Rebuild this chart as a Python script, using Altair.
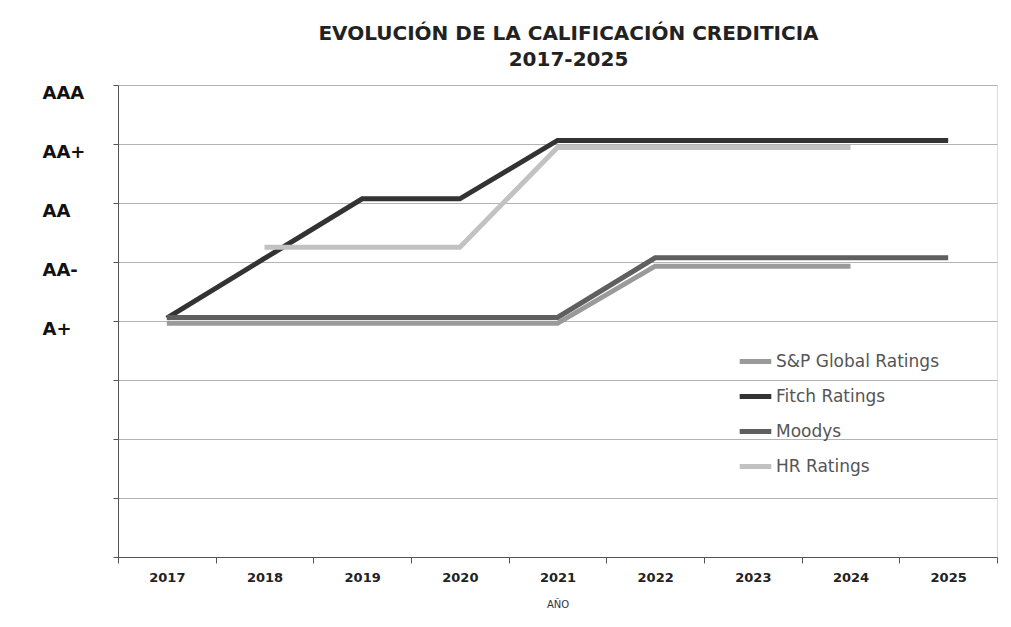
import altair as alt
import pandas as pd

years = ["2017", "2018", "2019", "2020", "2021", "2022", "2023", "2024", "2025"]
series_names = ["S&P Global Ratings", "Fitch Ratings", "Moodys", "HR Ratings"]
series_colors = ["#9a9a9a", "#333333", "#5f5f5f", "#c2c2c2"]

sp = [3.96, 3.96, 3.96, 3.96, 3.96, 4.93, 4.93, 4.93, None]
fitch = [4.05, 5.06, 6.07, 6.07, 7.06, 7.06, 7.06, 7.06, 7.06]
moodys = [4.06, 4.06, 4.06, 4.06, 4.06, 5.07, 5.07, 5.07, 5.07]
hr = [None, 5.25, 5.25, 5.25, 6.94, 6.94, 6.94, 6.94, None]

rating_values = [4, 5, 6, 7, 8]
rating_labels = ["A+", "AA-", "AA", "AA+", "AAA"]
grid_values = [0, 1, 2, 3, 4, 5, 6, 7, 8]

rows = []
for name, vals in zip(series_names, [sp, fitch, moodys, hr]):
    for y, v in zip(years, vals):
        if v is not None:
            rows.append({"year": y, "serie": name, "value": v})
df = pd.DataFrame(rows)

label_expr = ""
for v, l in zip(rating_values, rating_labels):
    label_expr += f"datum.value == {v} ? '{l}' : "
label_expr += "''"

chart = alt.Chart(df).mark_line(strokeWidth=5, strokeJoin="miter").encode(
    x=alt.X(
        "year:O",
        bandPosition=0.5,
        scale=alt.Scale(type="band", domain=years, paddingInner=0, paddingOuter=0),
        axis=alt.Axis(
            title="AÑO",
            labelAngle=0,
            tickBand="extent",
            tickSize=6,
            tickColor="#555555",
            domainColor="#555555",
            labelFont="DejaVu Sans",
            labelFontWeight="bold",
            labelFontSize=13,
            labelColor="#222222",
            labelPadding=8,
            titleFont="DejaVu Sans",
            titleFontSize=10,
            titleFontWeight="normal",
            titleColor="#333333",
            titlePadding=15,
            grid=False,
        ),
    ),
    y=alt.Y(
        "value:Q",
        scale=alt.Scale(domain=[0, 8], nice=False, zero=True),
        axis=alt.Axis(
            title=None,
            values=grid_values,
            labelExpr=label_expr,
            labelAlign="left",
            labelPadding=71,
            labelOffset=8,
            labelFont="DejaVu Sans",
            labelFontWeight="bold",
            labelFontSize=18,
            labelColor="#111111",
            tickSize=5,
            tickColor="#555555",
            domainColor="#555555",
            grid=True,
            gridColor="#b3b3b3",
            gridWidth=1,
        ),
    ),
    color=alt.Color(
        "serie:N",
        scale=alt.Scale(domain=series_names, range=series_colors),
        sort=series_names,
        legend=alt.Legend(
            title=None,
            orient="none",
            legendX=619,
            legendY=258,
            symbolType="stroke",
            symbolStrokeWidth=5,
            symbolSize=1000,
            labelFont="DejaVu Sans",
            labelFontSize=17,
            labelColor="#555555",
            labelOffset=2,
            labelLimit=400,
            rowPadding=6,
        ),
    ),
).properties(
    width=879,
    height=472,
    title=alt.Title(
        ["EVOLUCIÓN DE LA CALIFICACIÓN CREDITICIA", "2017-2025"],
        font="DejaVu Sans",
        fontSize=20,
        fontWeight="bold",
        color="#222222",
        anchor="middle",
        dx=11,
        lineHeight=26,
        offset=14,
    ),
    autosize=alt.AutoSizeParams(type="none"),
    padding={"left": 110, "top": 77, "right": 5, "bottom": 55},
).configure_view(stroke=None).configure(background="white")

chart.save("out.html", embed_options={"renderer": "svg", "actions": False})
